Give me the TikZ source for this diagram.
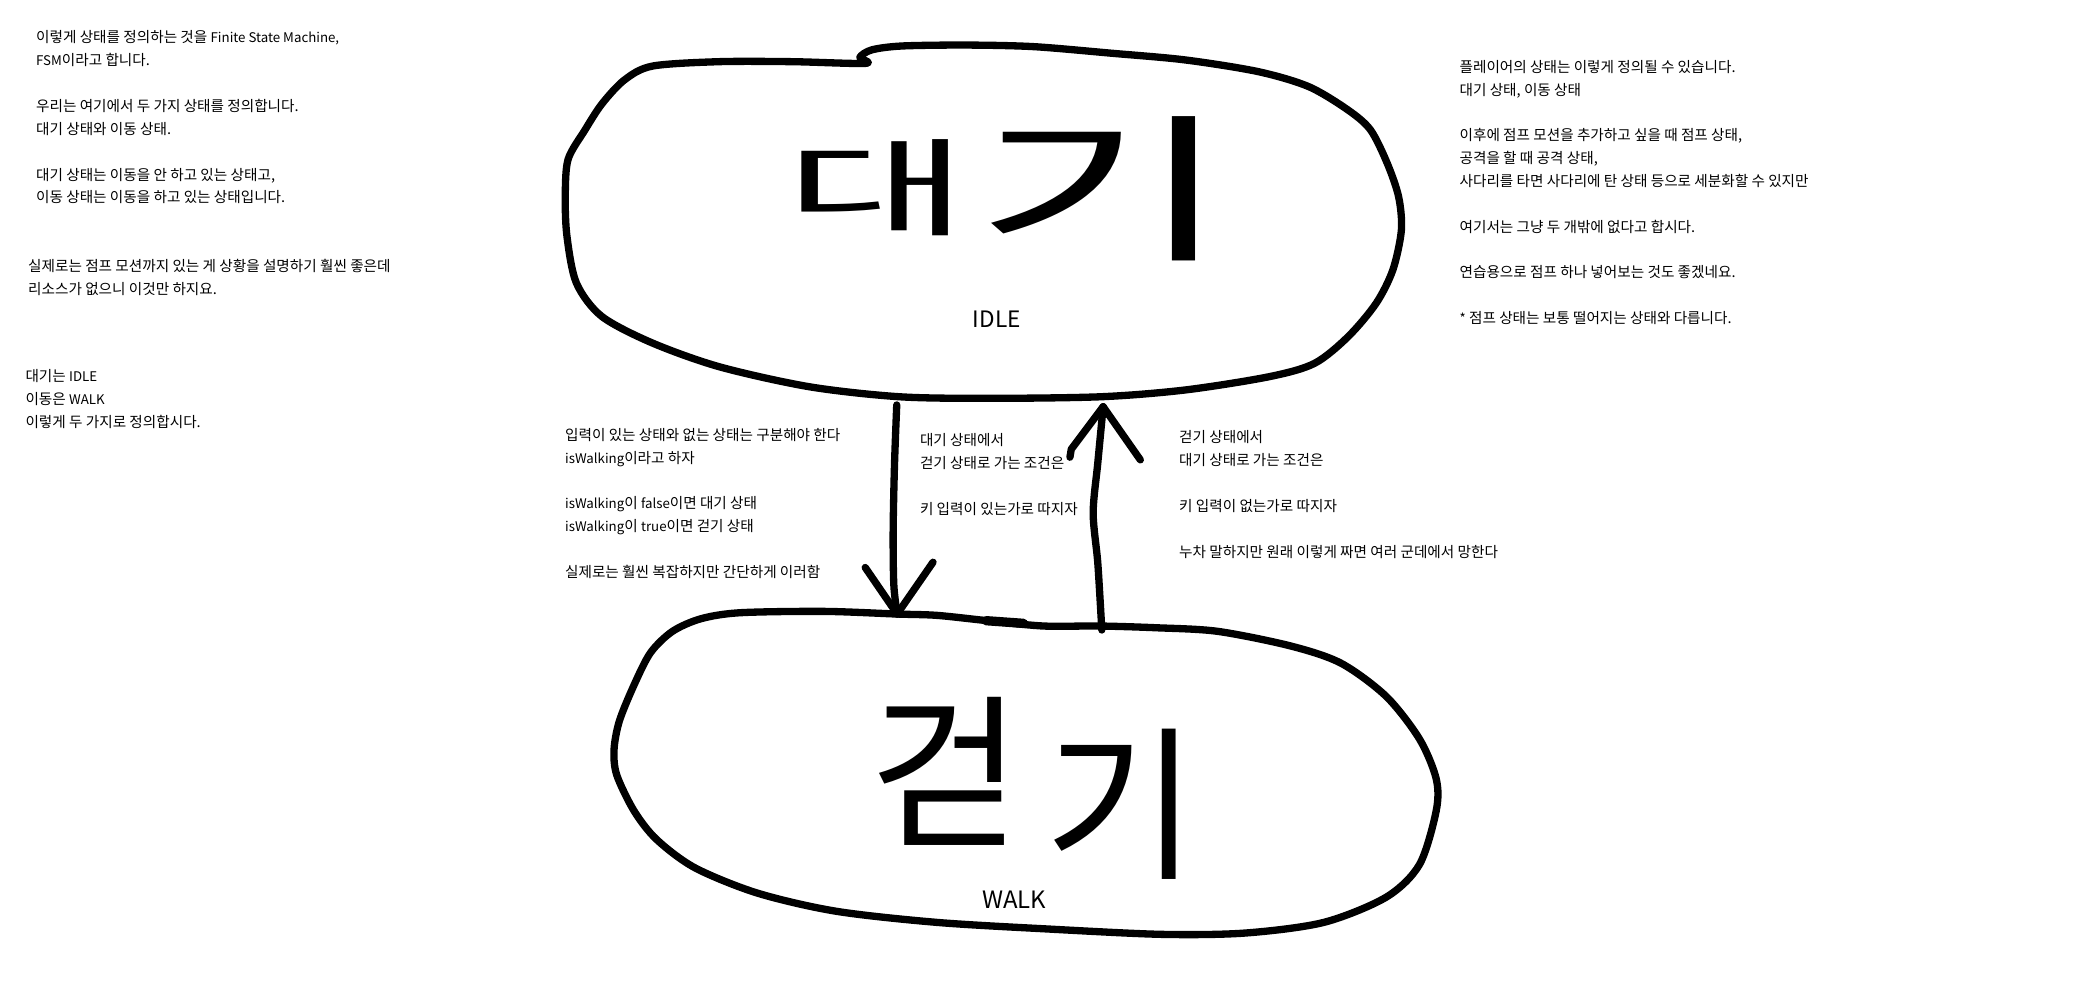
\documentclass[tikz,border=0pt]{standalone}
\usepackage{fontspec}
\setmainfont{Noto Sans CJK KR}
\usetikzlibrary{calc}
\newcommand\latn[1]{{\fontsize{10}{17.2}\selectfont #1}}
\tikzset{
  pen/.style={line width=5.5pt, line cap=round, line join=round},
  note/.style={anchor=north west, align=left, inner sep=0pt, font=\fontsize{11}{17.2}\selectfont},
  statelabel/.style={inner sep=0pt, font=\fontsize{17}{17}\selectfont},
  hand/.style={inner sep=0pt}
}
\begin{document}
\begin{tikzpicture}[x=1pt,y=-1pt]
\useasboundingbox (0,0) rectangle (1568,758);
\fill[white] (0,0) rectangle (1568,758);

% ---------- IDLE state outline ----------
\draw[pen] plot[smooth cycle, tension=0.5] coordinates {
 (651,47.7) (596,46.4) (541,46.4) (491,49.7) (470,60) (453,78) (440,98)
 (427.4,120) (425.3,148) (426.6,178) (433.7,213) (452.7,238) (490.7,258)
 (541.4,276) (609,291) (676.5,298.5) (744,299.7) (828.5,298.5) (891.8,293.4)
 (955,283.4) (989,273.4) (1014.3,253.3) (1035.4,228.2) (1048,203) (1054.4,173)
 (1052.3,148) (1043.8,123) (1031.2,97.8) (1014.3,82.8) (984.7,65.2) (946.7,53.9)
 (891.8,45.1) (837,40.1) (777.8,35.1) (727,33.9) (678.6,34.6) (656,37.5) (647,43)};

% ---------- WALK state outline ----------
\draw[pen] plot[smooth cycle, tension=0.5] coordinates {
 (675,462) (705,463) (743,467) (785,471) (827,471) (869.5,472.3) (916,475)
 (971,486) (1009,499) (1043,524) (1068,556) (1080.6,586) (1080.6,610)
 (1068,650.5) (1043,675) (996,694) (937,702) (874,703) (789,699) (705,694)
 (629,685.6) (570,672) (523,653) (494,631.6) (477,610) (464,583) (462,564)
 (466,542.5) (477,515.5) (489.5,491) (506,475) (527.5,465.5) (557,461) (620,460)};
\draw[pen, line width=7pt] (742,467) -- (770,469);

% ---------- state names ----------
\node[hand] (dae) at (660,141) {\fontsize{100}{100}\selectfont\scalebox{1.5}[0.8]{대}};
\node[hand] (gi1) at (830,142) {\fontsize{120}{120}\selectfont\scalebox{1.75}[1]{기}};
\node[statelabel] (idleLbl) at (750,240) {IDLE};

\node[hand] (geot) at (712,580) {\fontsize{125}{125}\selectfont 걷};
\node[hand] (gi2) at (843,605) {\fontsize{125}{125}\selectfont 기};
\node[statelabel, font=\fontsize{18}{18}\selectfont] (walkLbl) at (763,677) {WALK};

% ---------- connector end points ----------
\coordinate (idleOut) at (674.7,304.7);
\coordinate (walkIn) at (675,462);
\coordinate (walkOut) at (829,474);
\coordinate (idleIn) at (830,306);

% IDLE -> WALK
\draw[pen] plot[smooth, tension=0.5] coordinates {(idleOut) (673,350) (672,400) (672.5,440) (walkIn)};
\draw[pen] (walkIn) ++(-24,-35) -- (walkIn);
\draw[pen] (walkIn) ++(27,-39) -- (walkIn);

% WALK -> IDLE
\draw[pen] plot[smooth, tension=0.5] coordinates {(walkOut) (826,424) (822.5,386) (826,348) (idleIn)};
\draw[pen] (idleIn) ++(-25,38) -- ++(1,-6) -- (idleIn);
\draw[pen] (idleIn) ++(28,40) -- (idleIn);

% ---------- notes ----------
\node[note] (n1) at (27,23) {이렇게 상태를 정의하는 것을 \latn{Finite State Machine,}\\\latn{FSM}이라고 합니다.\\ \\우리는 여기에서 두 가지 상태를 정의합니다.\\대기 상태와 이동 상태.\\ \\대기 상태는 이동을 안 하고 있는 상태고,\\이동 상태는 이동을 하고 있는 상태입니다.};
\node[note] (n2) at (21,195) {실제로는 점프 모션까지 있는 게 상황을 설명하기 훨씬 좋은데\\리소스가 없으니 이것만 하지요.};
\node[note] (n3) at (19,278) {대기는 \latn{IDLE}\\이동은 \latn{WALK}\\이렇게 두 가지로 정의합시다.};
\node[note] (n4) at (1098,45) {플레이어의 상태는 이렇게 정의될 수 있습니다.\\대기 상태, 이동 상태\\ \\이후에 점프 모션을 추가하고 싶을 때 점프 상태,\\공격을 할 때 공격 상태,\\사다리를 타면 사다리에 탄 상태 등으로 세분화할 수 있지만\\ \\여기서는 그냥 두 개밖에 없다고 합시다.\\ \\연습용으로 점프 하나 넣어보는 것도 좋겠네요.\\ \\\latn{*} 점프 상태는 보통 떨어지는 상태와 다릅니다.};
\node[note] (n5) at (425,322) {입력이 있는 상태와 없는 상태는 구분해야 한다\\\latn{isWalking}이라고 하자\\ \\\latn{isWalking}이 \latn{false}이면 대기 상태\\\latn{isWalking}이 \latn{true}이면 걷기 상태\\ \\실제로는 훨씬 복잡하지만 간단하게 이러함};
\node[note] (n6) at (692,326) {대기 상태에서\\걷기 상태로 가는 조건은\\ \\키 입력이 있는가로 따지자};
\node[note] (n7) at (887,324) {걷기 상태에서\\대기 상태로 가는 조건은\\ \\키 입력이 없는가로 따지자\\ \\누차 말하지만 원래 이렇게 짜면 여러 군데에서 망한다};
\end{tikzpicture}
\end{document}
